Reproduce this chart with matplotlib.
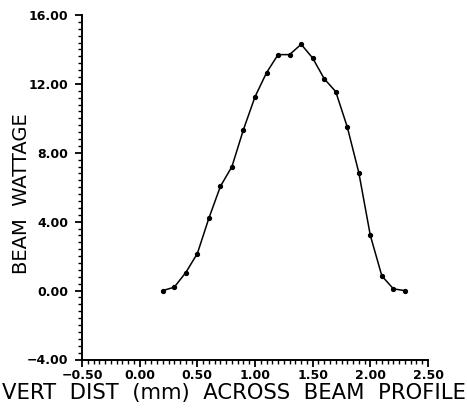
import matplotlib
matplotlib.use("Agg")
import matplotlib.pyplot as plt
from matplotlib.ticker import MultipleLocator, FuncFormatter

x_dist = [0.2, 0.3, 0.4, 0.5, 0.6, 0.7, 0.8, 0.9, 1.0, 1.1, 1.2,
          1.3, 1.4, 1.5, 1.6, 1.7, 1.8, 1.9, 2.0, 2.1, 2.2, 2.3]
wattage = [0.0, 0.2, 1.05, 2.15, 4.2, 6.05, 7.2, 9.35, 11.25, 12.65, 13.7,
           13.7, 14.3, 13.5, 12.3, 11.55, 9.5, 6.85, 3.2, 0.85, 0.1, 0.0]
x_label = "VERT  DIST  (mm)  ACROSS  BEAM  PROFILE"
y_label = "BEAM  WATTAGE"

fig = plt.figure(figsize=(4.67, 4.08), dpi=100)
ax = fig.add_axes([82/467, 1-359.5/408, (428-82)/467, (359.5-15)/408])

ax.plot(x_dist, wattage, color="black", lw=1.1, marker="o", ms=2.8)

ax.set_xlim(-0.5, 2.5)
ax.set_ylim(-4, 16)
ax.xaxis.set_major_locator(MultipleLocator(0.5))
ax.xaxis.set_minor_locator(MultipleLocator(0.05))
ax.yaxis.set_major_locator(MultipleLocator(4))
ax.yaxis.set_minor_locator(MultipleLocator(0.4))
fmt = FuncFormatter(lambda v, p: f"{v:.2f}".replace("-", "\u2212"))
ax.xaxis.set_major_formatter(fmt)
ax.yaxis.set_major_formatter(fmt)

for s in ["top", "right"]:
    ax.spines[s].set_visible(False)
for s in ["left", "bottom"]:
    ax.spines[s].set_linewidth(1.4)

ax.tick_params(which="major", direction="out", length=5, width=1.3,
               labelsize=9, pad=2)
ax.tick_params(which="minor", direction="out", length=3, width=1.0)
ax.tick_params(axis="y", which="major", pad=5)
for lab in ax.get_xticklabels() + ax.get_yticklabels():
    lab.set_fontweight("bold")

fig.text(0.5, 1-393/408, x_label, ha="center", va="center", fontsize=15.2)
fig.text(22/467, 1-194/408, y_label, ha="center", va="center",
         rotation=90, fontsize=14)

fig.savefig("out.png", dpi=100)
